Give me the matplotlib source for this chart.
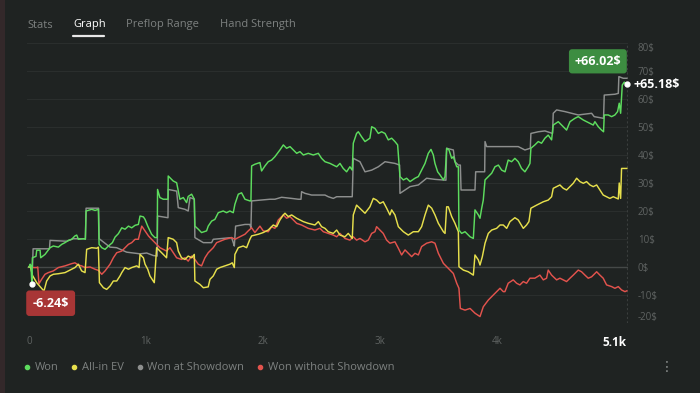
import matplotlib
matplotlib.use("Agg")
import matplotlib.pyplot as plt
from matplotlib.lines import Line2D
from matplotlib.patches import Rectangle

plt.rcParams['font.family'] = ['Open Sans', 'DejaVu Sans']

# ---------------- data (hands, $) ----------------
won_hands = [0, 10, 17, 25, 29, 60, 66, 95, 100, 137, 180, 208, 251, 280, 308, 337, 365, 393, 408, 422, 465, 482,
             488, 536, 565, 593, 599, 622, 650, 679, 713, 736, 764, 793, 821, 850, 878, 907, 935, 949, 978, 992,
             1015, 1048, 1076, 1096, 1099, 1119, 1148, 1176, 1188, 1190, 1233, 1262, 1276, 1290, 1319, 1347, 1361,
             1390, 1413, 1418, 1447, 1475, 1518, 1532, 1561, 1589, 1618, 1660, 1689, 1717, 1746, 1760, 1789, 1817,
             1846, 1888, 1897, 1903, 1931, 1974, 1988, 2017, 2045, 2074, 2102, 2145, 2174, 2202, 2231, 2259, 2288,
             2316, 2345, 2387, 2430, 2473, 2501, 2530, 2573, 2601, 2630, 2658, 2686, 2715, 2743, 2763, 2772, 2800,
             2815, 2843, 2872, 2914, 2929, 2957, 2986, 3014, 3043, 3071, 3100, 3128, 3151, 3171, 3200, 3228, 3257,
             3299, 3328, 3356, 3385, 3413, 3436, 3456, 3470, 3493, 3513, 3542, 3556, 3570, 3590, 3613, 3627, 3656,
             3670, 3675, 3698, 3727, 3770, 3798, 3812, 3841, 3855, 3869, 3883, 3898, 3926, 3955, 3983, 4012, 4040,
             4069, 4096, 4125, 4153, 4182, 4210, 4239, 4267, 4282, 4290, 4324, 4353, 4381, 4410, 4438, 4467, 4481,
             4524, 4567, 4595, 4624, 4666, 4695, 4738, 4766, 4795, 4823, 4837, 4866, 4894, 4911, 4917, 4951, 4980,
             5008, 5031, 5045, 5057, 5071, 5088, 5110]
won_vals = [0, 1.0, 0.5, -6.24, 3.3, 3.8, 6.0, 6.0, 3.3, 4.5, 6.9, 7.5, 7.1, 8.1, 8.7, 9.5, 9.9, 11.1, 11.4, 9.9, 10.1, 9.9,
            20.0, 20.6, 20.2, 20.6, 8.1, 6.9, 6.3, 7.5, 8.7, 10.7, 11.9, 14.0, 13.5, 14.6, 14.0, 14.9, 15.2, 18.2, 17.9, 17.0,
            14.6, 11.7, 10.5, 10.5, 27.7, 24.8, 24.2, 24.2, 24.2, 32.5, 30.7, 30.1, 27.1, 24.2, 24.8, 23.0, 25.2,
            26.0, 24.2, 14.6, 13.5, 12.3, 12.9, 14.6, 16.4, 17.0, 19.4, 20.0, 19.4, 20.0, 19.4, 22.4, 26.0, 26.5,
            24.2, 23.6, 23.6, 36.1, 36.7, 37.3, 34.3, 36.1, 37.6, 38.2, 39.4, 41.8, 43.6, 42.4, 43.0, 41.8, 40.6,
            41.2, 40.0, 40.6, 40.0, 40.6, 38.8, 37.6, 37.0, 36.4, 35.8, 37.0, 35.2, 34.0, 35.8, 34.6, 44.2, 47.7,
            48.3, 46.5, 44.8, 46.0, 50.1, 49.5, 47.7, 48.3, 47.7, 45.4, 46.0, 44.8, 43.6, 32.3, 31.1, 31.7, 30.5,
            31.7, 32.3, 34.6, 37.0, 40.6, 42.0, 40.0, 37.0, 34.0, 32.9, 31.1, 32.3, 42.4, 41.8, 38.8, 39.4, 35.8,
            35.8, 13.2, 12.0, 12.6, 10.8, 10.2, 20.4, 18.6, 17.4, 20.9, 23.9, 31.1, 32.3, 33.5, 35.8, 36.4, 34.6,
            34.0, 38.2, 37.6, 38.8, 37.6, 35.2, 34.0, 35.8, 37.0, 42.4, 43.6, 44.8, 44.2, 46.0, 47.1, 45.4, 50.7,
            51.9, 50.1, 48.9, 51.9, 53.1, 53.7, 52.5, 51.9, 51.3, 50.7, 51.9, 50.1, 48.9, 48.3, 54.3, 54.3, 53.7,
            54.3, 55.5, 58.5, 54.9, 65.0, 66.02, 65.18]

ev_hands = [0, 12, 30, 66, 128, 151, 180, 208, 251, 308, 365, 393, 422, 450, 479, 493, 536, 579, 593, 602, 636, 664,
            693, 721, 750, 778, 793, 821, 850, 878, 921, 941, 949, 978, 992, 1015, 1034, 1071, 1091, 1119, 1148, 1176,
            1190, 1233, 1262, 1276, 1304, 1333, 1361, 1390, 1413, 1418, 1461, 1490, 1532, 1547, 1575, 1604, 1632,
            1675, 1717, 1737, 1755, 1760, 1789, 1831, 1860, 1888, 1903, 1960, 2002, 2045, 2088, 2117, 2145, 2174,
            2188, 2216, 2245, 2288, 2316, 2345, 2387, 2444, 2473, 2501, 2530, 2558, 2601, 2630, 2658, 2701, 2729,
            2763, 2772, 2800, 2843, 2872, 2914, 2943, 2971, 3000, 3028, 3057, 3085, 3100, 3128, 3157, 3200, 3242,
            3285, 3328, 3356, 3385, 3413, 3442, 3470, 3499, 3542, 3556, 3570, 3584, 3613, 3641, 3670, 3675, 3713,
            3755, 3798, 3812, 3841, 3855, 3875, 3898, 3926, 3955, 3997, 4026, 4054, 4083, 4111, 4153, 4182, 4225,
            4253, 4273, 4290, 4339, 4396, 4438, 4467, 4481, 4538, 4567, 4595, 4624, 4652, 4681, 4709, 4738, 4766,
            4795, 4823, 4852, 4880, 4908, 4937, 4965, 4994, 5037, 5045, 5057, 5065, 5110]
ev_vals = [0, 0, -3.0, -5.6, -8.6, -5.0, -3.2, -2.6, -2.4, -2.0, -0.8, -0.2, 1.0, -1.4, -2.0, 6.3, 6.9, 6.7, 7.1, -5.6, -7.4, -8.0,
           -6.8, -5.0, -5.0, -3.2, -2.0, -0.2, -0.8, -0.2, 0.4, -0.2, 4.5, 3.3, 1.0, -0.8, -3.2, -5.6, 6.9, 5.7, 4.5, 3.3,
           10.5, 9.9, 8.7, 5.7, 3.3, 2.7, 3.9, 3.3, 4.5, -5.0, -6.2, -7.4, -7.1, -4.4, -3.2, -0.8, -0.2,
           0.4, 1.0, 1.5, -0.2, 4.5, 6.9, 7.5, 6.9, 9.9, 11.1, 11.7, 12.3, 13.2, 15.0, 14.4, 16.8, 18.6,
           19.2, 18.0, 18.6, 17.4, 16.8, 16.2, 15.6, 15.0, 16.2, 14.4, 13.8, 12.6, 12.0, 13.2, 11.4, 10.8, 12.0,
           10.2, 18.6, 22.1, 20.4, 19.2, 21.5, 24.5, 23.9, 22.7, 23.3, 21.0, 18.6, 20.4, 18.6, 14.4, 12.6, 11.4,
           12.6, 12.6, 14.4, 18.6, 22.1, 21.0, 18.6, 15.6, 12.6, 12.0, 21.5, 21.5, 18.0, 15.6, 12.6, 0.1, -1.1,
           -1.7, -2.9, 4.3, 2.5, 0.7, 3.7, 8.5, 12.0, 13.2, 13.8, 15.0, 15.0, 13.8, 16.2, 17.6, 16.8, 13.8,
           15.0, 16.2, 21.0, 22.1, 23.3, 23.9, 25.1, 28.1, 29.3, 28.1, 27.5, 28.7, 29.9, 31.7, 30.5, 29.9, 30.5,
           29.3, 28.7, 29.3, 27.5, 25.7, 25.1, 24.5, 25.1, 24.3, 30.0, 24.5, 35.2, 35.2]

sd_hands = [0, 30, 35, 175, 180, 322, 379, 482, 488, 595, 600, 692, 749, 835, 949, 1006, 1063, 1096, 1099, 1188, 1190,
            1262, 1276, 1333, 1361, 1376, 1413, 1418, 1490, 1561, 1575, 1732, 1746, 1755, 1766, 1846, 1888, 1897,
            1903, 2059, 2102, 2159, 2245, 2302, 2325, 2330, 2359, 2416, 2530, 2558, 2601, 2630, 2763, 2772, 2829,
            2872, 2929, 2986, 3043, 3128, 3168, 3171, 3257, 3328, 3399, 3470, 3564, 3570, 3627, 3641, 3670, 3687,
            3693, 3798, 3812, 3818, 3869, 3895, 3898, 3912, 4111, 4182, 4239, 4285, 4290, 4353, 4410, 4475, 4481,
            4510, 4581, 4638, 4695, 4809, 4831, 4911, 4917, 5008, 5037, 5042, 5079, 5110]
sd_vals = [0, 0, 6.5, 6.5, 9.5, 9.2, 10.1, 10.1, 21.0, 21.0, 10.1, 7.1, 6.9, 5.3, 4.7, 5.0, 4.1, 3.9, 18.2, 17.6, 27.7,
           27.1, 21.2, 20.6, 20.0, 24.8, 24.2, 10.5, 8.7, 8.7, 9.9, 10.5, 8.7, 7.5, 14.6, 15.2, 15.2, 14.0,
           23.6, 24.2, 24.2, 24.9, 24.5, 24.2, 24.2, 26.9, 26.3, 25.7, 25.7, 25.1, 24.5, 25.1, 25.1, 38.8, 37.6,
           34.0, 34.6, 35.8, 37.6, 37.0, 36.4, 26.3, 28.7, 29.3, 31.7, 31.3, 31.0, 42.4, 41.8, 37.6, 36.4, 36.4,
           27.5, 27.5, 27.5, 34.0, 34.0, 34.0, 44.8, 43.0, 43.0, 43.0, 41.8, 42.4, 47.7, 48.3, 48.6, 47.7, 54.9,
           56.1, 55.5, 54.9, 54.3, 54.9, 53.7, 53.1, 61.4, 61.7, 62.0, 68.0, 67.4, 67.4]

nsd_hands = [0, 37, 66, 75, 85, 108, 137, 165, 208, 251, 308, 365, 393, 422, 450, 479, 522, 565, 593, 622, 650, 693,
             721, 750, 793, 821, 850, 878, 907, 935, 949, 964, 992, 1021, 1034, 1062, 1091, 1119, 1148, 1176, 1205,
             1233, 1262, 1304, 1333, 1361, 1390, 1418, 1447, 1475, 1504, 1532, 1575, 1604, 1675, 1732, 1760, 1817,
             1846, 1874, 1903, 1931, 1974, 2002, 2045, 2074, 2102, 2131, 2159, 2174, 2202, 2231, 2259, 2288, 2330,
             2387, 2444, 2487, 2516, 2558, 2601, 2630, 2658, 2701, 2743, 2772, 2800, 2829, 2872, 2900, 2929, 2957,
             2971, 3000, 3028, 3057, 3085, 3128, 3157, 3185, 3214, 3242, 3271, 3299, 3328, 3356, 3399, 3442, 3470,
             3499, 3542, 3584, 3627, 3656, 3675, 3687, 3727, 3770, 3812, 3855, 3883, 3926, 3969, 3997, 4026, 4054,
             4068, 4096, 4139, 4168, 4196, 4225, 4253, 4282, 4324, 4367, 4396, 4424, 4438, 4467, 4510, 4538, 4567,
             4595, 4624, 4652, 4695, 4723, 4752, 4780, 4809, 4852, 4880, 4908, 4937, 4980, 5008, 5037, 5065, 5094,
             5110]
nsd_vals = [0, -0.2, -0.2, 0, -6.0, -4.4, -2.6, -2.0, -1.4, -0.2, 0.4, 1.2, 1.5, 0.7, 0.4, -0.2, 0, -0.8, -1.2, -2.6, -1.4, 1.0,
            3.3, 5.1, 5.7, 6.9, 8.1, 8.7, 9.9, 9.9, 12.3, 14.6, 12.9, 11.1, 10.5, 9.3, 8.1, 6.9, 6.3, 5.7, 6.9,
            5.1, 3.3, 2.7, 3.3, 2.1, 3.9, 2.7, 1.0, 0.4, 3.3, 5.1, 6.9, 8.7, 9.9, 10.5, 9.9, 11.1,
            11.7, 12.9, 14.0, 12.3, 14.6, 12.9, 12.6, 14.4, 13.8, 16.8, 18.0, 18.6, 17.4, 18.0, 16.8, 15.6, 15.0,
            13.8, 13.2, 13.8, 12.6, 12.0, 11.4, 10.8, 12.0, 10.2, 9.6, 10.8, 9.6, 10.2, 9.0, 9.6, 12.0, 12.6,
            14.4, 13.2, 12.0, 9.6, 8.5, 9.0, 6.7, 4.3, 6.1, 4.9, 3.7, 4.9, 4.3, 7.3, 8.5, 9.0, 8.5,
            4.9, 1.3, -0.5, -2.3, -5.8, -7.6, -14.8, -15.4, -14.8, -16.5, -17.7, -14.2, -11.8, -10.0, -8.8, -7.6, -8.8,
            -8.8, -5.8, -4.6, -5.8, -6.4, -5.2, -5.8, -4.0, -4.0, -2.9, -4.6, -4.0, -1.1, -2.9, -4.6, -4.0, -4.6,
            -5.2, -4.0, -2.9, -1.1, -1.7, -2.9, -4.0, -3.5, -1.7, -2.9, -4.0, -6.4, -7.0, -7.6, -7.0, -8.2, -8.8,
            -8.5]

y_ticks = [-20, -10, 0, 10, 20, 30, 40, 50, 60, 70, 80]
y_labels = ['-20$', '-10$', '0$', '10$', '20$', '30$', '40$', '50$', '60$', '70$', '80$']
x_ticks = [0, 1000, 2000, 3000, 4000, 5110]
x_labels = ['0', '1k', '2k', '3k', '4k', '5.1k']
series_names = ['Won', 'All-in EV', 'Won at Showdown', 'Won without Showdown']
tabs = ['Stats', 'Graph', 'Preflop Range', 'Hand Strength']

# ---------------- style ----------------
BG = '#1f2322'
C_WON = '#5ddc5e'
C_EV = '#e6df4c'
C_SD = '#8d8f8e'
C_NSD = '#e2534d'
TXT = '#7d8180'

fig = plt.figure(figsize=(7.0, 3.93), dpi=100, facecolor=BG)
ax = fig.add_axes([27 / 700, 1 - 323 / 393, 601 / 700, 280 / 393])
ax.set_facecolor(BG)
ax.set_xlim(-17, 5120)
ax.set_ylim(-20, 80)

for s in ax.spines.values():
    s.set_visible(False)

ax.set_yticks(y_ticks)
ax.set_yticklabels(y_labels)
ax.yaxis.tick_right()
ax.tick_params(axis='y', length=0, pad=7, labelsize=7, labelcolor='#5f6362')
ax.set_xticks(x_ticks)
ax.set_xticklabels(x_labels)
ax.tick_params(axis='x', length=0, pad=9, labelsize=7, labelcolor='#5f6362')
xl = ax.get_xticklabels()
xl[-1].set_color('white')
xl[-1].set_fontweight('bold')
xl[-1].set_fontsize(8.5)
xl[-1].set_horizontalalignment('right')
yl = ax.get_yticklabels()
yl[0].set_verticalalignment('bottom')
yl[-1].set_verticalalignment('top')

for t in y_ticks:
    if t == -20:
        continue
    ax.axhline(t, color='#454948' if t == 0 else '#2a2e2d', lw=1.0 if t == 0 else 0.8, zorder=0)

ax.axvline(won_hands[-1], color='#3a3e3d', lw=0.8, ls=(0, (2, 2)), zorder=0.5)

lw = 1.05
ax.plot(sd_hands, sd_vals, color=C_SD, lw=lw, zorder=2)
ax.plot(nsd_hands, nsd_vals, color=C_NSD, lw=lw, zorder=3)
ax.plot(ev_hands, ev_vals, color=C_EV, lw=lw, zorder=4)
ax.plot(won_hands, won_vals, color=C_WON, lw=lw, zorder=5)

# min / max / last markers
imin = won_vals.index(min(won_vals))
imax = won_vals.index(max(won_vals))
ax.plot([won_hands[imin]], [won_vals[imin]], 'o', ms=3.5, color='white', zorder=6)
ax.plot([won_hands[-1]], [won_vals[-1]], 'o', ms=3.5, color='white', zorder=6, clip_on=False)

ax.annotate(f'+{won_vals[imax]:.2f}$', xy=(won_hands[imax], won_vals[imax]), xytext=(-19, 15),
            textcoords='offset points', ha='center', va='center', color='white', fontsize=9,
            fontweight='bold', zorder=7,
            bbox=dict(boxstyle='round,pad=0.45,rounding_size=0.25', fc='#3d8d41', ec='none'))
ax.annotate(f'{won_vals[imin]:.2f}$', xy=(won_hands[imin], won_vals[imin]), xytext=(13.5, -13.5),
            textcoords='offset points', ha='center', va='center', color='white', fontsize=9,
            fontweight='bold', zorder=7,
            bbox=dict(boxstyle='round,pad=0.5,rounding_size=0.25', fc='#a83636', ec='none'))
ax.annotate(f'+{won_vals[-1]:.2f}$', xy=(won_hands[-1], won_vals[-1]), xytext=(5, 0),
            textcoords='offset points', ha='left', va='center', color='white', fontsize=9,
            fontweight='bold', zorder=7, annotation_clip=False)

# tabs
tab_x = [27, 73, 126, 220]
for name, x in zip(tabs, tab_x):
    fig.text(x / 700, 1 - 25 / 393, name, ha='left', va='center', fontsize=8,
             color='white' if name == 'Graph' else TXT)
fig.add_artist(Line2D([73 / 700, 104 / 700], [1 - 35.5 / 393, 1 - 35.5 / 393], color='#e8e8e8', lw=1.6,
                      solid_capstyle='round'))

# left edge strip
fig.add_artist(Rectangle((0, 0), 5 / 700, 1, transform=fig.transFigure, fc='#33282a', ec='none'))

# legend
handles = [Line2D([], [], ls='none', marker='o', ms=3, color=c) for c in (C_WON, C_EV, C_SD, C_NSD)]
fig.legend(handles, series_names, loc='center left', bbox_to_anchor=(25 / 700, 1 - 368 / 393), ncol=4,
           frameon=False, handlelength=0.4, handletextpad=0.5, columnspacing=1.2, fontsize=8,
           labelcolor=TXT, borderpad=0, borderaxespad=0)

fig.text(667 / 700, 1 - 367 / 393, '\u22ee', ha='center', va='center', fontsize=10, color='#8a8e8d',
         family=['DejaVu Sans'])

fig.savefig('out.png', dpi=100, facecolor=BG)
